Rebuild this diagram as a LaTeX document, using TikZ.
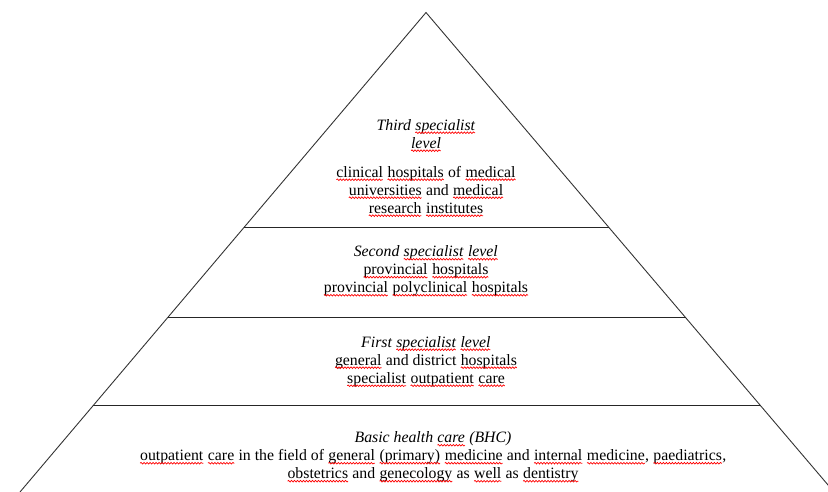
\documentclass[tikz,border=0pt]{standalone}
\usepackage{fontspec}
\setmainfont{Liberation Serif}
\usepackage{xcolor}
\usetikzlibrary{calc,positioning,decorations.pathmorphing}

% red wavy mark under a word
\newcommand{\sqw}[1]{\tikz[baseline=(w.base), x=1pt, y=1pt]{%
  \node [inner sep=0pt, outer sep=0pt] (w) {#1};
  \draw [red, line width=0.7pt, decorate,
         decoration={snake, amplitude=0.8pt, segment length=3pt}]
        ([yshift=-2.6pt]w.base west) -- ([yshift=-2.6pt]w.base east);}}

\tikzset{side/.style  = {line width=0.9pt, draw=black!80},
         floor/.style = {line width=1.4pt, draw=black!85},
         level/.style = {align=center, inner sep=0pt,
                         font=\fontsize{15.8}{18}\selectfont}}

\begin{document}
\begin{tikzpicture}[x=1pt, y=-1pt]
\useasboundingbox (0,0) rectangle (828,492);
\coordinate (apex) at (426,12.5);
\coordinate (footL) at (20,492);
\coordinate (footR) at (834,492);
\draw [side] (footL) -- (apex) -- (footR);
% floors between the levels
\foreach \n/\t in {1/0.4484, 2/0.6361, 3/0.8196} {
  \coordinate (floor\n L) at ($(apex)!\t!(footL)$);
  \coordinate (floor\n R) at ($(apex)!\t!(footR)$);
  \draw [floor] (floor\n L) -- (floor\n R);
}
\node (third) [level] at (426,168)
  {\textit{Third \sqw{specialist}}\\ \textit{\sqw{level}}\\[11pt]
   \sqw{clinical} \sqw{hospitals} of \sqw{medical}\\
   \sqw{universities} and \sqw{medical}\\
   \sqw{research} \sqw{institutes}};
\node (second) [level] at (426,271)
  {\textit{Second \sqw{specialist} \sqw{level}}\\
   \sqw{provincial} \sqw{hospitals}\\
   \sqw{provincial} \sqw{polyclinical} \sqw{hospitals}};
\node (first) [level] at (426,361.5)
  {\textit{First \sqw{specialist} \sqw{level}}\\
   \sqw{general} and district \sqw{hospitals}\\
   \sqw{specialist} \sqw{outpatient} \sqw{care}};
\node (basic) [level] at (433,457)
  {\textit{Basic health \sqw{care} (BHC)}\\
   \sqw{outpatient} \sqw{care} in the field of \sqw{general} \sqw{(primary)} \sqw{medicine} and \sqw{internal} \sqw{medicine}, \sqw{paediatrics},\\
   \sqw{obstetrics} and \sqw{genecology} as \sqw{well} as \sqw{dentistry}};
\end{tikzpicture}
\end{document}
